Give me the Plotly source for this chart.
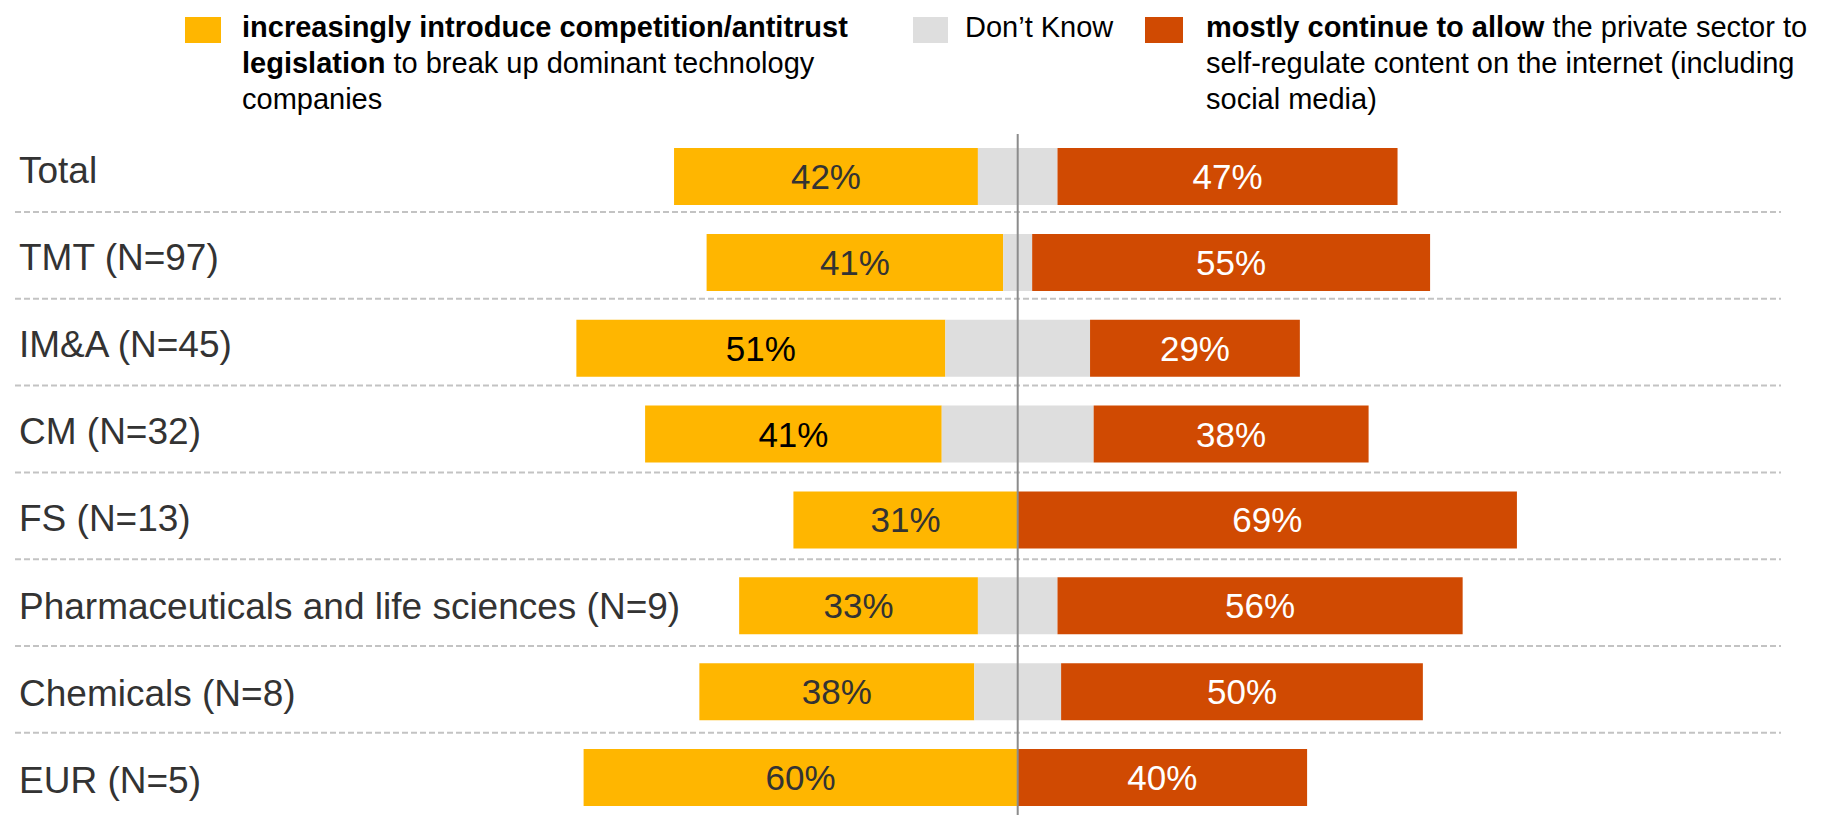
import plotly.graph_objects as go

# Survey results per sector (percent of respondents)
categories = [
    "Total",
    "TMT (N=97)",
    "IM&A (N=45)",
    "CM (N=32)",
    "FS (N=13)",
    "Pharmaceuticals and life sciences (N=9)",
    "Chemicals (N=8)",
    "EUR (N=5)",
]
introduce = [42, 41, 51, 41, 31, 33, 38, 60]
dont_know = [11, 4, 20, 21, 0, 11, 12, 0]
self_regulate = [47, 55, 29, 38, 69, 56, 50, 40]

W, H = 1847, 815
YELLOW = "#FFB600"
GREY = "#DEDEDE"
ORANGE = "#D04A02"
NARROW = "Liberation Sans Narrow, Arial Narrow, Liberation Sans, Arial, sans-serif"
ARIAL = "Liberation Sans, Arial, sans-serif"

yellow_text = ["#333333", "#333333", "#000000", "#000000",
               "#333333", "#333333", "#333333", "#333333"]

half = [d / 2 for d in dont_know]
bar_w = 0.664

fig = go.Figure()
fig.add_bar(
    y=categories, x=introduce,
    base=[-h - v for h, v in zip(half, introduce)],
    orientation="h", width=bar_w,
    marker=dict(color=YELLOW, line=dict(width=0)),
    text=[f"{v}%" for v in introduce],
    textposition="inside", insidetextanchor="middle", textangle=0,
    textfont=dict(family=NARROW, size=35, color=yellow_text),
    hoverinfo="skip",
)
fig.add_bar(
    y=categories, x=dont_know,
    base=[-h for h in half],
    orientation="h", width=bar_w,
    marker=dict(color=GREY, line=dict(width=0)),
    hoverinfo="skip",
)
fig.add_bar(
    y=categories, x=self_regulate,
    base=half,
    orientation="h", width=bar_w,
    marker=dict(color=ORANGE, line=dict(width=0)),
    text=[f"{v}%" for v in self_regulate],
    textposition="inside", insidetextanchor="middle", textangle=0,
    textfont=dict(family=NARROW, size=35, color="#FFFFFF"),
    hoverinfo="skip",
)

shapes = []
annotations = []

# centre divider
shapes.append(dict(type="line", xref="x", x0=0, x1=0, yref="paper",
                   y0=0, y1=1 - 134 / H, layer="above",
                   line=dict(color="#8C8C8C", width=2)))

# dashed row separators
for k in range(len(categories) - 1):
    ypx = 212 + 86.8 * k
    shapes.append(dict(type="line", xref="paper", x0=15 / W, x1=1781 / W,
                       yref="paper", y0=1 - ypx / H, y1=1 - ypx / H,
                       layer="below",
                       line=dict(color="#C3C3C3", width=2, dash="6px,3px")))

# row labels
for i, name in enumerate(categories):
    ypx = 170 + 87.2 * i
    annotations.append(dict(text=name, xref="paper", yref="paper",
                            x=17 / W, y=1 - ypx / H, xanchor="left",
                            yanchor="middle", showarrow=False,
                            font=dict(family=ARIAL, size=37, color="#333333")))

# legend
def swatch(x0, x1, color):
    shapes.append(dict(type="rect", xref="paper", yref="paper",
                       x0=x0 / W, x1=x1 / W, y0=1 - 43 / H, y1=1 - 17 / H,
                       fillcolor=color, line=dict(width=0)))

def legend_line(x, ypx, text):
    annotations.append(dict(text=text, xref="paper", yref="paper",
                            x=x / W, y=1 - ypx / H, xanchor="left",
                            yanchor="middle", showarrow=False,
                            font=dict(family=NARROW, size=29, color="#000000")))

swatch(185, 221, YELLOW)
legend_line(240, 27, "<b>increasingly introduce competition/antitrust</b>")
legend_line(240, 63, "<b>legislation</b> to break up dominant technology")
legend_line(240, 99, "companies")

swatch(913, 948, GREY)
legend_line(963, 27, "Don’t Know")

swatch(1145, 1183, ORANGE)
legend_line(1204, 27, "<b>mostly continue to allow</b> the private sector to")
legend_line(1204, 63, "self-regulate content on the internet (including")
legend_line(1204, 99, "social media)")

x_per_px = 1 / 7.235
fig.update_layout(
    width=W, height=H,
    margin=dict(l=0, r=0, t=0, b=0),
    paper_bgcolor="white", plot_bgcolor="white",
    barmode="overlay", showlegend=False,
    xaxis=dict(range=[-1017.7 * x_per_px, (W - 1017.7) * x_per_px],
               visible=False, fixedrange=True),
    yaxis=dict(range=[7.436, -2.056], visible=False, fixedrange=True,
               categoryorder="array", categoryarray=categories),
    shapes=shapes, annotations=annotations,
    uniformtext=dict(minsize=10, mode="show"),
)

fig.write_html("out.html")
